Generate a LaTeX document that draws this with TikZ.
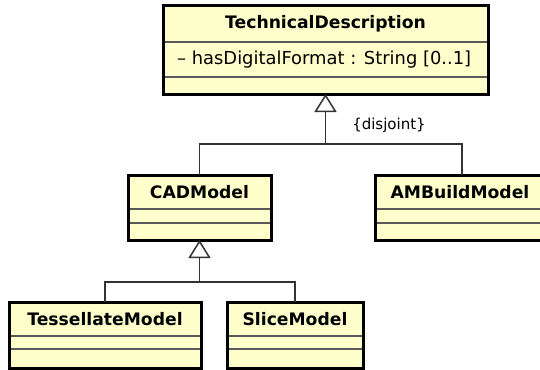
\documentclass[tikz,border=0pt]{standalone}
\usepackage{fontspec}
\setmainfont{DejaVu Sans}
\usetikzlibrary{arrows.meta}
\definecolor{classfill}{HTML}{FFFFCC}

\begin{document}
\begin{tikzpicture}[x=1pt,y=-1pt,
    classbox/.style={draw=black,line width=3pt,fill=classfill,inner sep=0pt,outer sep=0pt},
    classname/.style={font=\fontsize{17.2}{20}\selectfont\bfseries,inner sep=0pt},
    attrtext/.style={font=\fontsize{17.9}{20}\selectfont,inner sep=0pt,anchor=west},
    sepline/.style={draw=black!65,line width=1.5pt,shorten <=1.5pt,shorten >=1.5pt},
    genline/.style={draw=black!80,line width=1.5pt},
    gentip/.style={-{Triangle[open,length=18pt,width=22pt,line width=1.5pt]}}]
    \useasboundingbox (0,0) rectangle (540,369);
    \clip (0,0) rectangle (540,369);
    % classes
    \node[classbox,minimum width=325pt,minimum height=88pt] (td) at (325.5,50) {};
    \draw[sepline] ([yshift=-36pt]td.north west) -- ([yshift=-36pt]td.north east);
    \draw[sepline] ([yshift=-71pt]td.north west) -- ([yshift=-71pt]td.north east);
    \node[classname] (tdname) at (325.5,24) {TechnicalDescription};
    \node[attrtext] (tdattr) at (177,59.5) {– hasDigitalFormat : String [0..1]};

    \node[classbox,minimum width=143pt,minimum height=65pt] (cad) at (199.5,207.5) {};
    \draw[sepline] ([yshift=-34pt]cad.north west) -- ([yshift=-34pt]cad.north east);
    \draw[sepline] ([yshift=-48pt]cad.north west) -- ([yshift=-48pt]cad.north east);
    \node[classname] (cadname) at (199.5,192) {CADModel};

    \node[classbox,minimum width=174pt,minimum height=65pt] (amb) at (462,207.5) {};
    \draw[sepline] ([yshift=-34pt]amb.north west) -- ([yshift=-34pt]amb.north east);
    \draw[sepline] ([yshift=-48pt]amb.north west) -- ([yshift=-48pt]amb.north east);
    \node[classname] (ambname) at (460,192) {AMBuildModel};

    \node[classbox,minimum width=192pt,minimum height=66pt] (tess) at (105,335) {};
    \draw[sepline] ([yshift=-34pt]tess.north west) -- ([yshift=-34pt]tess.north east);
    \draw[sepline] ([yshift=-47pt]tess.north west) -- ([yshift=-47pt]tess.north east);
    \node[classname] (tessname) at (105,319) {TessellateModel};

    \node[classbox,minimum width=136pt,minimum height=66pt] (slice) at (295,335) {};
    \draw[sepline] ([yshift=-34pt]slice.north west) -- ([yshift=-34pt]slice.north east);
    \draw[sepline] ([yshift=-47pt]slice.north west) -- ([yshift=-47pt]slice.north east);
    \node[classname] (slicename) at (295,319) {SliceModel};

    % generalizations
    \coordinate (j1) at (td.south |- 0,144);
    \draw[genline,gentip] (j1) -- (td.south);
    \draw[genline] (cad.north) |- (j1) -| (amb.north);
    \node[font=\fontsize{15}{18}\selectfont,inner sep=0pt] (disj) at (389,125) {\{disjoint\}};

    \coordinate (j2) at (cad.south |- 0,282);
    \draw[genline,gentip] (j2) -- (cad.south);
    \draw[genline] (tess.north) |- (j2) -| (slice.north);
\end{tikzpicture}
\end{document}
